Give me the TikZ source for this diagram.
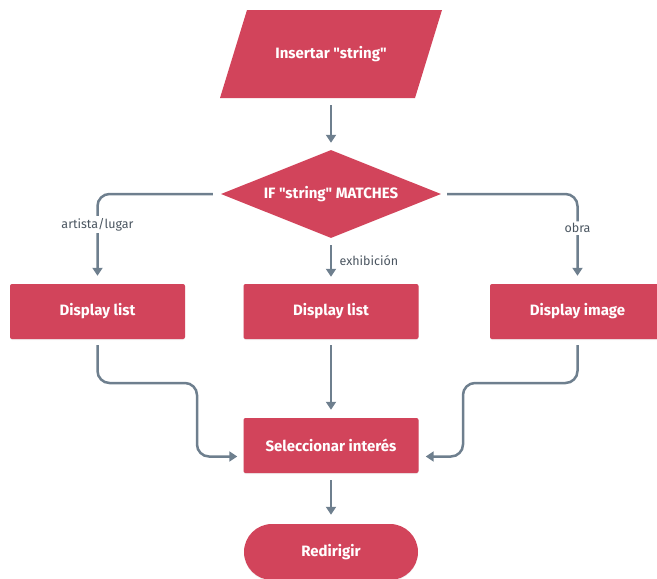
\documentclass[tikz,border=0pt]{standalone}
\usepackage{fontspec}
\setmainfont{Fira Sans}[Ligatures=TeXOff]
\usetikzlibrary{shapes.geometric,shapes.misc,arrows.meta,shadows}
\definecolor{boxred}{HTML}{D2445B}
\definecolor{linegray}{HTML}{6E7F8E}
\definecolor{labgray}{HTML}{4A5560}
\begin{document}
\begin{tikzpicture}[x=1pt,y=-1pt,
  boxtext/.style={text=white,font=\fontsize{15}{17}\selectfont\bfseries},
  stepbox/.style={boxtext,rectangle,rounded corners=2pt,fill=boxred,
    minimum width=175pt,minimum height=55pt,inner sep=0pt,
    drop shadow={opacity=0.12,shadow xshift=0pt,shadow yshift=-1pt}},
  conn/.style={draw=linegray,line width=2.5pt,rounded corners=12pt,
    -{Triangle[width=10pt,length=8pt]}},
  labfont/.style={text=labgray,font=\fontsize{12.5}{14}\selectfont},
  lab/.style={labfont,fill=white,inner sep=2pt}]
\useasboundingbox (0,0) rectangle (657,579);

% input parallelogram
\fill[boxred] (247,10) -- (442,10) -- (415,98) -- (220,98) -- cycle;
\node[boxtext,minimum height=88pt,minimum width=150pt,inner sep=0pt] (in) at (331,54) {Insertar "string"};

% decision
\node[boxtext,diamond,fill=boxred,minimum width=220pt,minimum height=88pt,
  shape aspect=2.5,inner sep=0pt] (dec) at (331,194) {IF "string" MATCHES};

% branches
\node[stepbox] (L) at (97.5,311.5) {Display list};
\node[stepbox] (M) at (331,311.5) {Display list};
\node[stepbox] (R) at (577.5,311.5) {Display image};

% merge and end
\node[stepbox] (S) at (331,445.5) {Seleccionar interés};
\node[boxtext,rounded rectangle,fill=boxred,minimum width=174pt,minimum height=56pt,
  inner sep=0pt,drop shadow={opacity=0.12,shadow xshift=0pt,shadow yshift=-1pt}]
  (E) at (331,552) {Redirigir};

\coordinate (lb) at (197,383);
\coordinate (rb) at (463,383);

% connectors
\draw[conn,shorten <=7pt,shorten >=7pt] (in.south) -- (dec.north);
\draw[conn,shorten <=8pt,shorten >=8pt] (dec.west) -| node[lab,pos=0.67] {artista/lugar} (L.north);
\draw[conn,shorten <=7pt,shorten >=7pt] (dec.south) -- node[labfont,right=4pt] {exhibición} (M.north);
\draw[conn,shorten <=6pt,shorten >=8pt] (dec.east) -| node[lab,pos=0.69] {obra} (R.north);

\draw[conn,shorten <=6pt,shorten >=6pt] (L.south) |- (lb) |- ([yshift=-11pt]S.west);
\draw[conn,shorten <=6pt,shorten >=8pt] (M.south) -- (S.north);
\draw[conn,shorten <=6pt,shorten >=7pt] (R.south) |- (rb) |- ([yshift=-11pt]S.east);
\draw[conn,shorten <=7pt,shorten >=9pt] (S.south) -- (E.north);
\end{tikzpicture}
\end{document}
